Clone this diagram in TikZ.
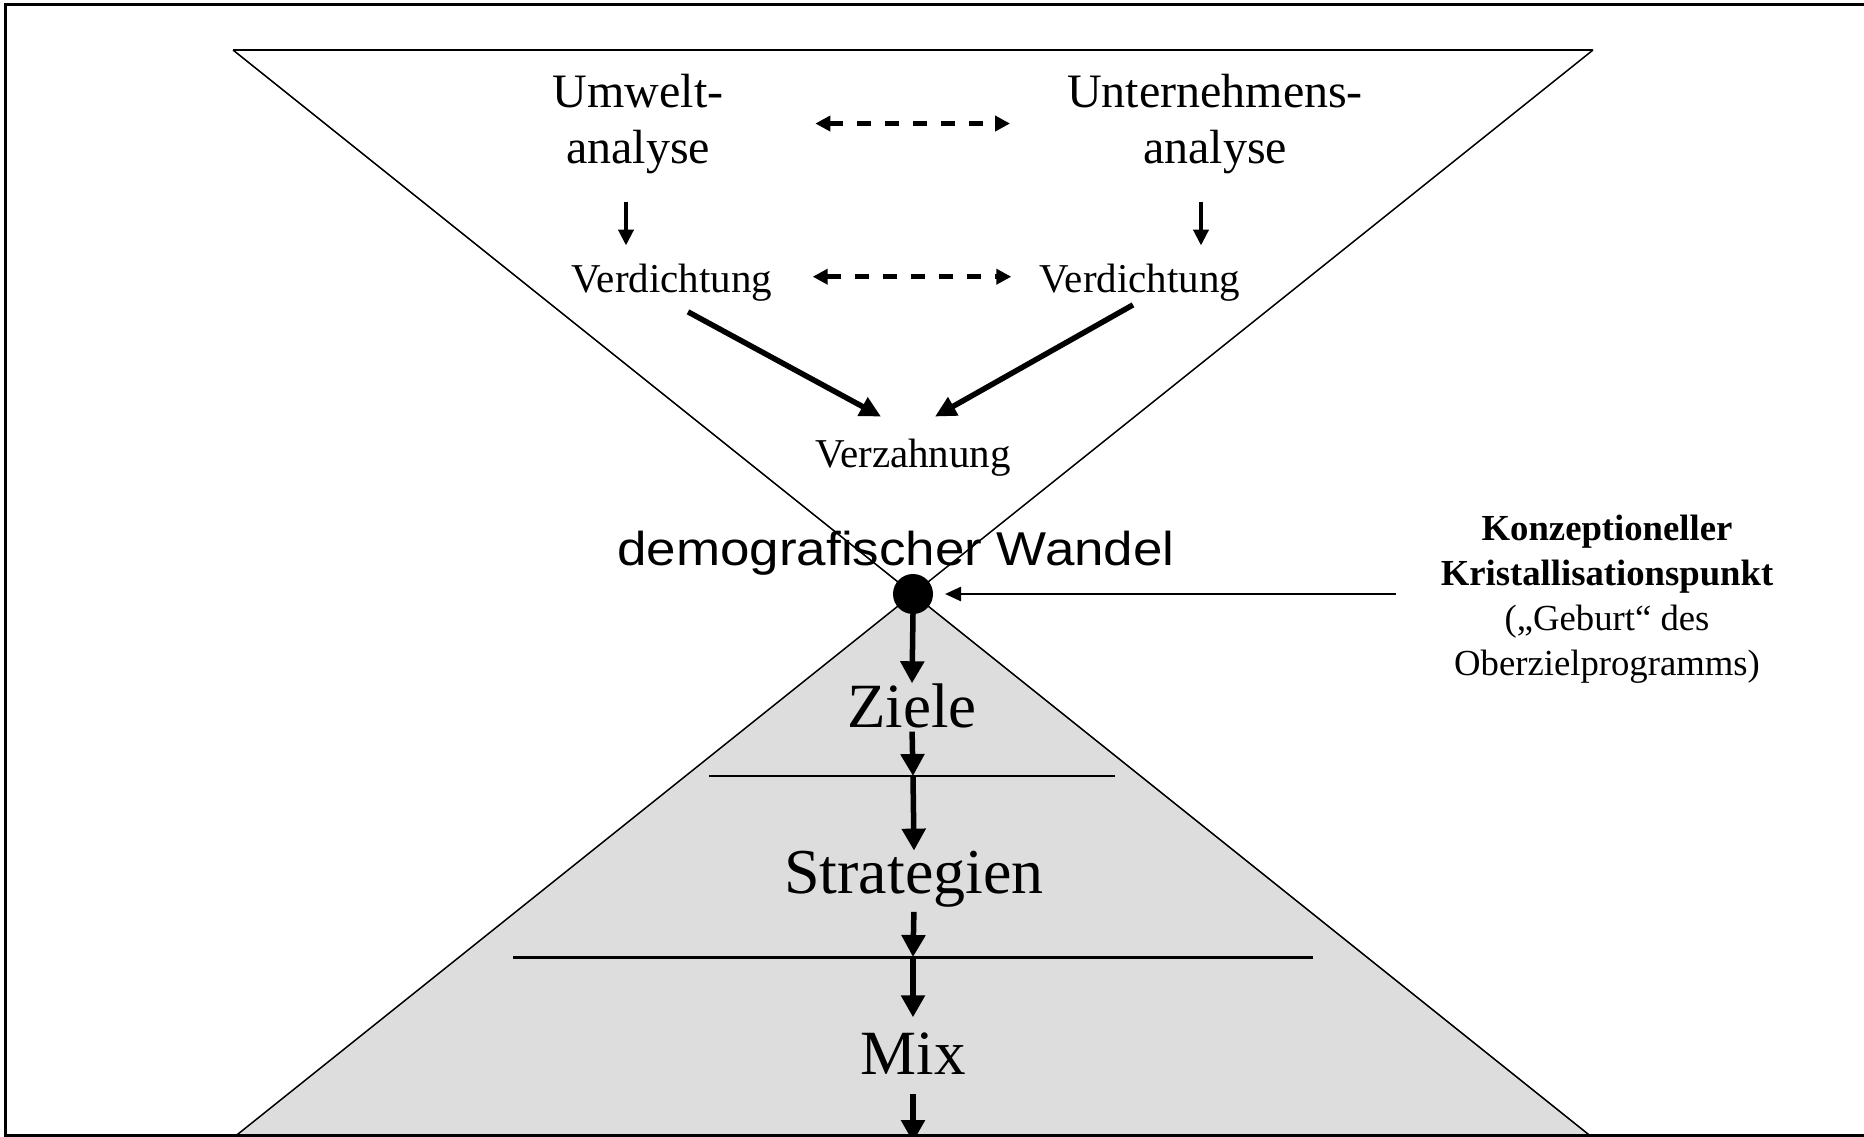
\documentclass[tikz,border=0pt]{standalone}
\usepackage{fontspec}
\setmainfont{Liberation Serif}
\newfontfamily\demofont{Liberation Sans}
\usetikzlibrary{arrows.meta,calc}
\definecolor{coneGray}{RGB}{221,221,221}
\begin{document}
\begin{tikzpicture}[x=1pt,y=-1pt,
  every node/.style={inner sep=0pt,outer sep=0pt},
  headtxt/.style={font=\fontsize{48}{56}\selectfont,align=center,anchor=base},
  midtxt/.style={font=\fontsize{41}{48}\selectfont,anchor=base},
  bigtxt/.style={font=\fontsize{63}{70}\selectfont,anchor=base},
  edgeline/.style={line width=1.5pt},
  flow arrow/.style={line width=5.5pt,-{Triangle[length=22pt,width=23pt]}},
  small arrow/.style={line width=4.5pt,-{Triangle[length=16pt,width=15pt]}},
  diag arrow/.style={line width=5.5pt,-{Triangle[length=21pt,width=20pt]}},
  link arrow/.style={line width=5pt,dash pattern=on 14pt off 14pt,
    {Triangle[length=15pt,width=15pt]}-{Triangle[length=15pt,width=15pt]}},
  pointer/.style={line width=2.5pt,-{Triangle[length=16pt,width=14pt]}}]
\useasboundingbox (0,0) rectangle (1864,1136);
\clip (0,0) rectangle (1864,1136);
\fill[white] (0,0) rectangle (1864,1136);

% hourglass: shaded lower cone, crossing flanks, open top
\fill[coneGray] (913,594) -- (235.5,1136) -- (1590.5,1136) -- cycle;
\draw[edgeline] (233,50) -- (1593,50);
\draw[edgeline] (233,50) -- (1593,1138);
\draw[edgeline] (1593,50) -- (233,1138);

% outer frame
\draw[line width=3pt] (5,4) rectangle (1880,1135);

% upper funnel texts (multi-line nodes sit on their last baseline)
\node[headtxt] (umw) at (638,163) {Umwelt-\\analyse};
\node[headtxt] (unt) at (1215,163) {Unternehmens-\\analyse};
\node[midtxt] (vl) at (672,292) {Verdichtung};
\node[midtxt] (vr) at (1140,292) {Verdichtung};
\node[midtxt] (vz) at (913,467) {Verzahnung};
\node[anchor=base] (demo) at (896,565)
  {\demofont\fontsize{47.5}{50}\selectfont\scalebox{1.115}[1]{demografischer Wandel}};

% crystallisation point
\node[circle,fill=black,minimum size=40pt] (dot) at (913,594) {};
\node[anchor=base,align=center,font=\fontsize{36.7}{44.7}\selectfont] (konz) at (1607,675)
  {\textbf{Konzeptioneller}\\\textbf{Kristallisationspunkt}\\(„Geburt“ des\\Oberzielprogramms)};

% lower cone texts
\node[bigtxt] (ziele) at (912,727) {Ziele};
\node[bigtxt,font=\fontsize{64}{70}\selectfont] (strat) at (914,893) {Strategien};
\node[bigtxt] (mix) at (913,1074) {Mix};

% separators in the lower cone
\coordinate (s1L) at (709,776);
\coordinate (s1R) at (1115,776);
\coordinate (s1) at (913,776);
\coordinate (s2L) at (513,957);
\coordinate (s2R) at (1313,957);
\coordinate (s2) at (913,957);
\coordinate (outlet) at (913,1142);
\draw[line width=2.5pt] (s1L) -- (s1R);
\draw[line width=3pt] (s2L) -- (s2R);

% connectors in the upper funnel
\draw[link arrow,shorten <=92pt,shorten >=57pt] (umw.east) -- (unt.west);
\draw[small arrow] ($(umw.south)+(-12,28.5)$) -- ($(umw.south |- vl.north)+(-12,-18)$);
\draw[small arrow] ($(unt.south)+(-14,28.5)$) -- ($(unt.south |- vr.north)+(-14,-18)$);
\draw[link arrow,shorten <=40.5pt,shorten >=28.5pt] ([yshift=5.5pt]vl.east) -- ([yshift=5.5pt]vr.west);
\draw[diag arrow] ($(vl.south)+(16,11)$) -- ($(vz.north)+(-32,-22)$);
\draw[diag arrow] ($(vr.south)+(-7,4)$) -- ($(vz.north)+(22,-22)$);

% pointer to the crystallisation point
\draw[pointer,shorten >=12pt] ($(konz.west |- dot.east)+(-45,0)$) -- (dot.east);

% flow through the lower cone
\draw[flow arrow] (dot.south) -- (ziele.north);
\draw[flow arrow,shorten <=4pt] (ziele.south) -- (s1);
\draw[flow arrow] (s1) -- (strat.north);
\draw[flow arrow,shorten <=5pt] (strat.south) -- (s2);
\draw[flow arrow,shorten >=15pt] (s2) -- (mix.north);
\draw[flow arrow,shorten <=20pt] (mix.south) -- (outlet);
\end{tikzpicture}
\end{document}
